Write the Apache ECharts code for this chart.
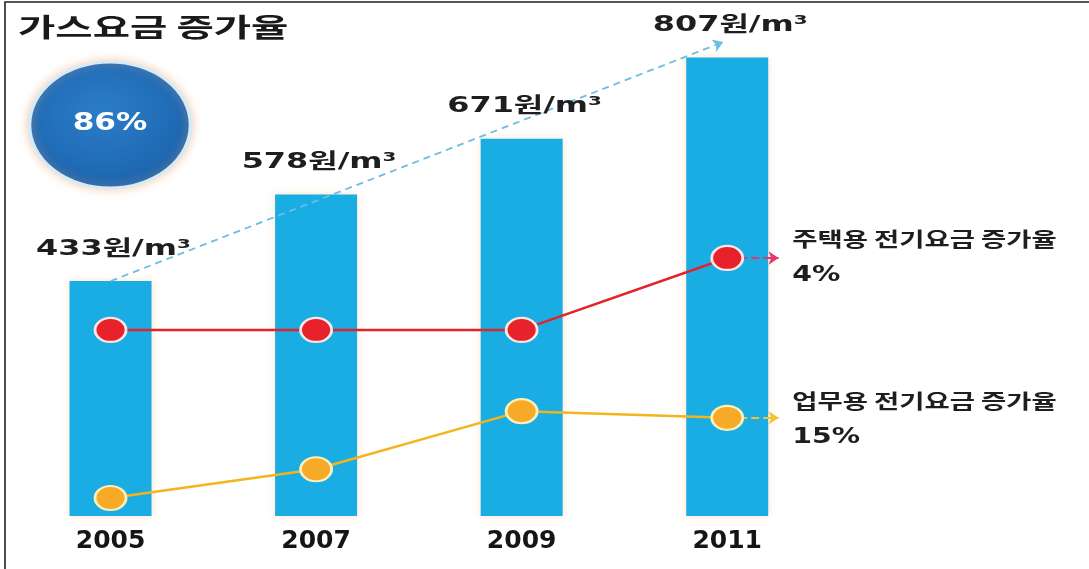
<!DOCTYPE html>
<html>
<head>
<meta charset="utf-8">
<script src="https://cdn.jsdelivr.net/npm/echarts@6/dist/echarts.min.js"></script>
<style>
html,body{margin:0;padding:0;background:#fff;}
#main{width:1089px;height:569px;}
</style>
</head>
<body>
<div id="main"></div>
<script>
// ---- data ----
const titleText = '가스요금 증가율';
const gasIncrease = '86%';
const years = ['2005', '2007', '2009', '2011'];
const gasPrice = [433, 578, 671, 807];
const gasUnit = '원/m³';
const trendEnd = [2.98, 833];          // end of the dashed trend arrow (index, price)
const residentialIdx = [36.2, 36.2, 36.2, 50.2];   // 주택용 line (relative position)
const commercialIdx = [3.5, 9.1, 20.4, 19.1];      // 업무용 line (relative position)
const residentialLabel = '주택용 전기요금 증가율';
const residentialRate = '4%';
const commercialLabel = '업무용 전기요금 증가율';
const commercialRate = '15%';
const arrowTipIdx = 3.25;

const chart = echarts.init(document.getElementById('main'));
const pair = arr => arr.map((v, i) => [i, v]);
const last = arr => arr.length - 1;

const option = {
  animation: false,
  grid: { left: 7.75, right: 259, top: 2, bottom: 53, containLabel: false },
  xAxis: [
    {
      type: 'category', data: years, boundaryGap: true,
      axisLine: { show: false }, axisTick: { show: false }, splitLine: { show: false },
      axisLabel: { margin: 13, fontSize: 25, fontWeight: 'bold', color: '#151515', fontFamily: 'DejaVu Sans' }
    },
    { type: 'value', min: -0.5, max: 3.5, show: false }
  ],
  yAxis: [
    { type: 'value', min: 40, max: 900, show: false },
    { type: 'value', min: 0, max: 100, show: false }
  ],
  series: [
    {
      type: 'bar', xAxisIndex: 0, yAxisIndex: 0, data: gasPrice, barWidth: 82,
      itemStyle: { color: '#19ade4', shadowColor: 'rgba(250,225,200,0.9)', shadowBlur: 8 },
      z: 2
    },
    {
      type: 'line', xAxisIndex: 1, yAxisIndex: 1, data: pair(residentialIdx),
      lineStyle: { color: '#e3232b', width: 2.5 },
      symbol: 'circle', symbolSize: [31, 24],
      itemStyle: { color: '#e8222a', borderColor: '#fbe6e6', borderWidth: 2.5 },
      z: 5,
      markLine: {
        silent: true, symbol: ['none', 'arrow'], symbolSize: [10, 10],
        lineStyle: { type: 'dashed', color: '#e6386a', width: 2 },
        label: { show: false },
        data: [[{ coord: [last(residentialIdx), residentialIdx[last(residentialIdx)]] },
                { coord: [arrowTipIdx, residentialIdx[last(residentialIdx)]] }]]
      }
    },
    {
      type: 'line', xAxisIndex: 1, yAxisIndex: 1, data: pair(commercialIdx),
      lineStyle: { color: '#f2b51c', width: 2.5 },
      symbol: 'circle', symbolSize: [31, 24],
      itemStyle: { color: '#f7a928', borderColor: '#fbefbb', borderWidth: 2.5 },
      z: 5,
      markLine: {
        silent: true, symbol: ['none', 'arrow'], symbolSize: [10, 10],
        lineStyle: { type: 'dashed', color: '#f5c230', width: 2 },
        label: { show: false },
        data: [[{ coord: [last(commercialIdx), commercialIdx[last(commercialIdx)]] },
                { coord: [arrowTipIdx, commercialIdx[last(commercialIdx)]] }]]
      }
    },
    {
      type: 'line', xAxisIndex: 1, yAxisIndex: 0, data: [],
      z: 4,
      markLine: {
        silent: true, symbol: ['none', 'arrow'], symbolSize: [10, 10],
        lineStyle: { type: [7, 5], color: '#6dbde2', width: 1.8 },
        label: { show: false },
        data: [[{ coord: [0, gasPrice[0]] }, { coord: trendEnd }]]
      }
    }
  ]
};
chart.setOption(option);

// ---- annotation texts placed through the chart's own scales ----
const graphics = [];
// frame
graphics.push({ type: 'rect', shape: { x: 5, y: 2, width: 1200, height: 700 }, style: { fill: 'none', stroke: '#222', lineWidth: 1.6 }, silent: true, z: 0 });
// title
graphics.push({
  type: 'text', x: 18, y: 27, scaleX: 1.56, z: 10,
  style: { text: titleText, font: 'bold 26px "Noto Sans CJK KR"', fill: '#1a1a1a', textAlign: 'left', textVerticalAlign: 'middle' }
});
// blue ellipse badge
graphics.push({
  type: 'circle', x: 110, y: 125, scaleX: 1.28, z: 10,
  shape: { cx: 0, cy: 0, r: 63 },
  style: {
    fill: new echarts.graphic.RadialGradient(0.45, 0.4, 0.7, [
      { offset: 0, color: '#2b7dc9' }, { offset: 1, color: '#1a60a9' }
    ]),
    stroke: '#d6ebf7', lineWidth: 3,
    shadowColor: 'rgba(240,170,120,0.55)', shadowBlur: 10
  }
});
graphics.push({
  type: 'text', x: 110, y: 124, scaleX: 1.3, z: 11,
  style: { text: gasIncrease, font: 'bold 24px "DejaVu Sans"', fill: '#ffffff', textAlign: 'center', textVerticalAlign: 'middle' }
});
// price labels above bars
gasPrice.forEach((v, i) => {
  const p = chart.convertToPixel({ seriesIndex: 0 }, [i, v]);
  graphics.push({
    type: 'text', x: p[0] + 3, y: p[1] - 32, scaleX: 1.52, z: 10,
    style: { text: v + gasUnit, font: 'bold 21px "DejaVu Sans", "Noto Sans CJK KR"', fill: '#1e1e1e', textAlign: 'center', textVerticalAlign: 'middle' }
  });
});
// right-side labels
function sideLabel(seriesIndex, arr, label, rate, dyTop, dyBottom) {
  const p = chart.convertToPixel({ seriesIndex: seriesIndex }, [last(arr), arr[last(arr)]]);
  graphics.push({
    type: 'text', x: p[0] + 65, y: p[1] + dyTop, scaleX: 1.37, z: 10,
    style: { text: label, font: 'bold 20px "Noto Sans CJK KR"', fill: '#1e1e1e', textAlign: 'left', textVerticalAlign: 'middle' }
  });
  graphics.push({
    type: 'text', x: p[0] + 65, y: p[1] + dyBottom, scaleX: 1.35, z: 10,
    style: { text: rate, font: 'bold 21px "DejaVu Sans"', fill: '#1e1e1e', textAlign: 'left', textVerticalAlign: 'middle' }
  });
}
sideLabel(1, residentialIdx, residentialLabel, residentialRate, -19, 18);
sideLabel(2, commercialIdx, commercialLabel, commercialRate, -16, 20);

chart.setOption({ graphic: graphics });
</script>
</body>
</html>
